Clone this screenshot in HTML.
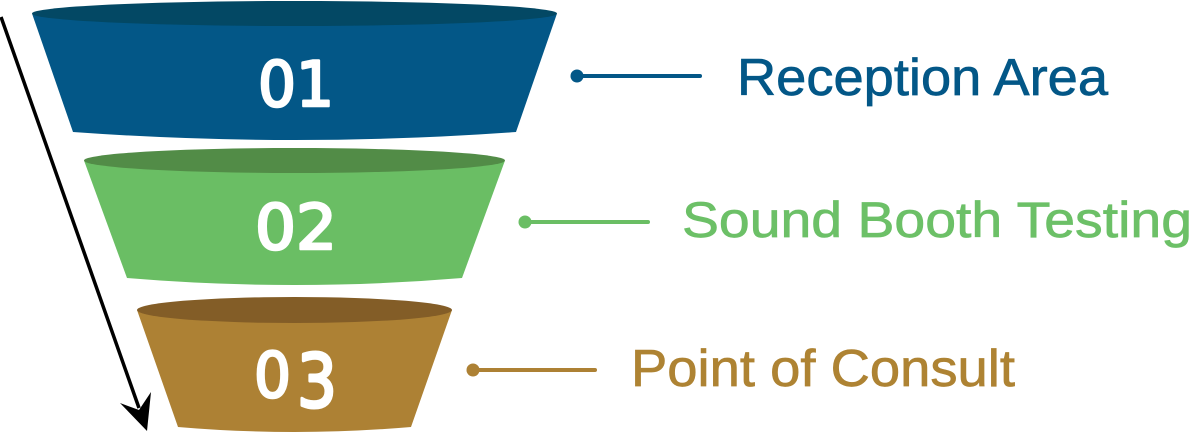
<!DOCTYPE html>
<html>
<head>
<meta charset="utf-8">
<style>
  html,body{margin:0;padding:0;background:#ffffff;}
  svg{display:block;}
  .num{font-family:"DejaVu Sans","Liberation Sans",sans-serif;font-weight:normal;fill:#ffffff;stroke:#ffffff;stroke-width:2.6;stroke-linejoin:round;}
  .lbl{font-family:"Liberation Sans",sans-serif;stroke-width:0.7;}
</style>
</head>
<body>
<svg width="1200" height="433" viewBox="0 0 1200 433" xmlns="http://www.w3.org/2000/svg">
  <rect width="1200" height="433" fill="#ffffff"/>

  <!-- Arrow -->
  <line x1="1" y1="17" x2="139" y2="408" stroke="#000" stroke-width="3.5"/>
  <polygon points="147,431 120,403 139,410 151,392" fill="#000"/>

  <!-- Funnel 1 (blue) -->
  <path d="M32,13.5 L73,132 Q294.5,148 516,132 L557,13.5 Z" fill="#035787"/>
  <ellipse cx="294.5" cy="13.5" rx="262.5" ry="12.5" fill="#034864"/>
  <text class="num" x="258" y="106" font-size="62" textLength="76" lengthAdjust="spacingAndGlyphs">01</text>

  <!-- Funnel 2 (green) -->
  <path d="M84,160.5 L127,278 Q294.5,292 462,278 L505,160.5 Z" fill="#6abe64"/>
  <ellipse cx="294.5" cy="160.5" rx="210.5" ry="12.5" fill="#528c47"/>
  <text class="num" x="255" y="249" font-size="62" textLength="82" lengthAdjust="spacingAndGlyphs">02</text>

  <!-- Funnel 3 (brown) -->
  <path d="M137,310 L178,427 Q294.5,437 411,427 L452,310 Z" fill="#ad8134"/>
  <ellipse cx="294.5" cy="310" rx="157.5" ry="13" fill="#835d27"/>
  <text class="num" x="254" y="397" font-size="62" textLength="37" lengthAdjust="spacingAndGlyphs">0</text>
  <text class="num" transform="translate(297,407) scale(1,1.2)" x="0" y="0" font-size="62" textLength="40" lengthAdjust="spacingAndGlyphs">3</text>

  <!-- Connectors -->
  <line x1="577" y1="76" x2="700" y2="76" stroke="#035787" stroke-width="4" stroke-linecap="round"/>
  <circle cx="577" cy="76" r="6.5" fill="#035787"/>

  <line x1="525" y1="222" x2="648" y2="222" stroke="#6abe64" stroke-width="4" stroke-linecap="round"/>
  <circle cx="525" cy="222" r="6.5" fill="#6abe64"/>

  <line x1="473" y1="370" x2="595" y2="370" stroke="#ad8134" stroke-width="4" stroke-linecap="round"/>
  <circle cx="473" cy="370" r="6.5" fill="#ad8134"/>

  <!-- Labels -->
  <text class="lbl" x="737" y="95" font-size="52" fill="#035787" stroke="#035787" textLength="371" lengthAdjust="spacingAndGlyphs">Reception Area</text>
  <text class="lbl" x="682" y="237" font-size="50" fill="#6cc067" stroke="#6cc067" textLength="510" lengthAdjust="spacingAndGlyphs">Sound Booth Testing</text>
  <text class="lbl" x="631" y="386" font-size="52" fill="#ae8333" stroke="#ae8333" textLength="384" lengthAdjust="spacingAndGlyphs">Point of Consult</text>
</svg>
</body>
</html>
